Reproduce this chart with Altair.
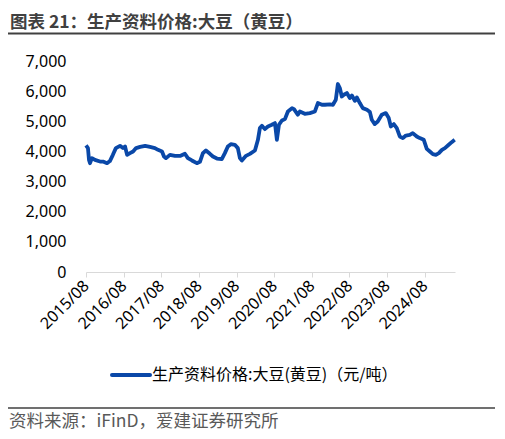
import pandas as pd
import altair as alt

# weekly-ish readings of the soybean price, yuan/ton
dates = [
    "2015-08-01", "2015-08-20", "2015-08-30", "2015-09-09", "2015-09-28", "2015-10-27",
    "2015-12-15", "2016-01-13", "2016-02-21", "2016-03-20", "2016-04-18", "2016-05-17",
    "2016-06-26", "2016-07-25", "2016-08-14", "2016-09-03", "2016-10-01", "2016-10-31",
    "2016-11-29", "2017-01-07", "2017-02-25", "2017-04-13", "2017-05-31", "2017-06-30",
    "2017-08-08", "2017-08-27", "2017-09-16", "2017-10-24", "2017-12-12", "2018-01-30",
    "2018-03-18", "2018-04-16", "2018-05-25", "2018-07-12", "2018-08-11", "2018-09-09",
    "2018-10-08", "2018-11-16", "2018-12-15", "2019-01-23", "2019-03-11", "2019-04-10",
    "2019-05-09", "2019-06-07", "2019-07-16", "2019-08-14", "2019-09-03", "2019-09-22",
    "2019-11-01", "2019-12-09", "2020-01-27", "2020-02-25", "2020-03-15", "2020-04-04",
    "2020-05-02", "2020-06-01", "2020-07-09", "2020-08-08", "2020-08-27", "2020-09-16",
    "2020-10-15", "2020-11-13", "2020-12-12", "2021-01-21", "2021-02-09", "2021-03-18",
    "2021-04-07", "2021-05-25", "2021-07-13", "2021-08-31", "2021-09-29", "2021-11-07",
    "2021-12-06", "2022-01-24", "2022-02-22", "2022-03-22", "2022-04-11", "2022-04-30",
    "2022-05-19", "2022-06-08", "2022-07-07", "2022-08-05", "2022-08-25", "2022-09-23",
    "2022-10-12", "2022-11-10", "2022-12-09", "2023-01-18", "2023-02-16", "2023-03-06",
    "2023-04-04", "2023-05-03", "2023-06-11", "2023-07-20", "2023-08-18", "2023-09-07",
    "2023-10-06", "2023-11-04", "2023-12-03", "2024-01-02", "2024-01-31", "2024-03-09",
    "2024-04-07", "2024-05-16", "2024-06-14", "2024-07-23", "2024-08-21", "2024-09-20",
    "2024-10-19", "2024-11-17", "2024-12-16", "2025-01-15", "2025-02-13", "2025-03-22",
    "2025-04-20", "2025-05-19",
]
prices = [
    4200, 4110, 3720, 3610, 3777, 3720,
    3665, 3665, 3610, 3680, 3887, 4110,
    4186, 4110, 4165, 3887, 3943, 3998,
    4110, 4150, 4186, 4150, 4110, 4053,
    3998, 3831, 3777, 3887, 3850, 3850,
    3925, 3777, 3700, 3610, 3655, 3943,
    4030, 3920, 3831, 3765, 3743, 3943,
    4165, 4242, 4220, 4110, 3777, 3700,
    3854, 3920, 4030, 4385, 4774, 4850,
    4740, 4828, 4884, 4940, 4385, 4884,
    5027, 5072, 5326, 5437, 5404, 5216,
    5326, 5249, 5272, 5326, 5605, 5548,
    5548, 5560, 5548, 5714, 6236, 6103,
    5824, 5880, 5937, 5770, 5857, 5681,
    5791, 5605, 5437, 5382, 5305, 5050,
    4906, 4994, 5216, 5272, 5106, 4828,
    4906, 4774, 4496, 4442, 4528, 4551,
    4607, 4496, 4442, 4385, 4086, 3997,
    3910, 3887, 3943, 4053, 4110, 4220,
    4308, 4385,
]
tick_years = list(range(2015, 2025))
y_ticks = [0, 1000, 2000, 3000, 4000, 5000, 6000, 7000]

title_text = "图表 21：生产资料价格:大豆（黄豆）"
legend_text = "生产资料价格:大豆(黄豆)（元/吨）"
source_text = "资料来源：iFinD，爱建证券研究所"

BLUE = "#0a48a8"
CJK = "Noto Sans CJK SC"

df = pd.DataFrame({"date": dates, "price": prices})
one = pd.DataFrame({"k": [0]})

line = (alt
        .Chart(df)
        .mark_line(color=BLUE, strokeWidth=3.8, strokeJoin="round")
        .encode(
            x=alt.X("date:T",
                    scale=alt.Scale(type="utc",
                                    domain=[alt.DateTime(year=2015, month=8, date=1, utc=True),
                                            alt.DateTime(year=2025, month=5, date=22, utc=True)]),
                    axis=alt.Axis(values=[alt.DateTime(year=y, month=8, date=1, utc=True) for y in tick_years],
                                  format="%Y/%m", labelAngle=-45, labelAlign="right",
                                  labelBaseline="middle", labelPadding=6, labelOverlap=False,
                                  labelFontSize=16, labelFont="Noto Sans", labelColor="#000",
                                  domainColor="#d9d9d9", tickColor="#d9d9d9", tickSize=5,
                                  grid=False, title=None)),
            y=alt.Y("price:Q",
                    scale=alt.Scale(domain=[0, 7000], nice=False),
                    axis=alt.Axis(values=y_ticks, format=",.0f", labelFontSize=16,
                                  labelFont="Noto Sans", labelColor="#000",
                                  labelPadding=20, domain=False, ticks=False,
                                  grid=False, title=None))
        ))

title = (alt.Chart(one)
         .mark_text(text=title_text, font=CJK, fontSize=17.5, fontWeight="bold",
                    color="#404040", align="left", baseline="middle")
         .encode(x=alt.value(-76), y=alt.value(-38.5)))

title_rule = (alt.Chart(one)
              .mark_rule(color="#404040", strokeWidth=2)
              .encode(x=alt.value(-78), x2=alt.value(413), y=alt.value(-27.5)))

legend_line = (alt.Chart(one)
               .mark_rule(color=BLUE, strokeWidth=4, strokeCap="round")
               .encode(x=alt.value(26), x2=alt.value(64), y=alt.value(314)))

legend_label = (alt.Chart(one)
                .mark_text(text=legend_text, font=CJK, fontSize=16, color="#000",
                           align="left", baseline="middle")
                .encode(x=alt.value(66), y=alt.value(314)))

source_rule = (alt.Chart(one)
               .mark_rule(color="#404040", strokeWidth=1.5)
               .encode(x=alt.value(-78), x2=alt.value(413), y=alt.value(347)))

source = (alt.Chart(one)
          .mark_text(text=source_text, font=CJK, fontSize=17.5, color="#595959",
                     align="left", baseline="middle")
          .encode(x=alt.value(-77), y=alt.value(361)))

chart = (line + title + title_rule + legend_line + legend_label + source_rule + source).properties(
    width=369,
    height=211,
    autosize=alt.AutoSizeParams(type="none"),
    padding={"left": 78, "top": 53, "right": 40, "bottom": 161},
).configure_view(stroke=None)

chart.save("out.html", embed_options={"renderer": "svg", "actions": False})
